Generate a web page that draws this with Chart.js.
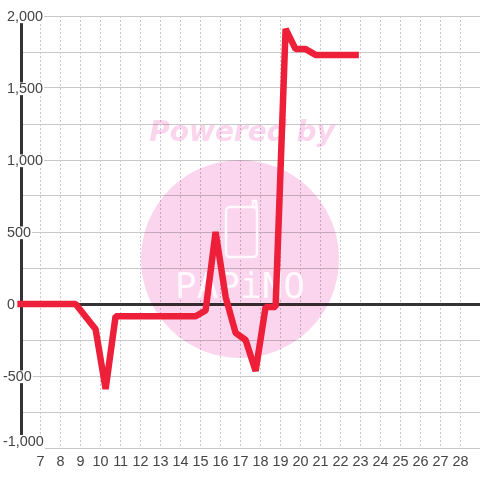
<!DOCTYPE html>
<html>
<head>
<meta charset="utf-8">
<style>
  html, body { margin: 0; padding: 0; background: #fff; }
  canvas { display: block; }
</style>
<script src="https://cdn.jsdelivr.net/npm/chart.js@4"></script>
</head>
<body>
<canvas id="chart" width="480" height="480"></canvas>
<script>
// half hourly values, the first point sits on the axis
const hours = [6, 6.25, 6.75, 7.25, 7.75, 8.25, 8.75, 9.75, 10.25, 10.75, 11.25, 11.75, 12.25, 12.75, 13.25, 13.75, 14.25, 14.75, 15.25, 15.75, 16.25, 16.75, 17.25, 17.75, 18.25, 18.75, 19.25, 19.75, 20.25, 20.75, 21.25, 21.75, 22.25, 22.75];
const values = [0, 0, 0, 0, 0, 0, 0, -175, -590, -85, -85, -85, -85, -85, -85, -85, -85, -85, -45, 500, 50, -200, -250, -465, -20, -20, 1910, 1770, 1770, 1730, 1730, 1730, 1730, 1730];
const hourTicks = [7, 8, 9, 10, 11, 12, 13, 14, 15, 16, 17, 18, 19, 20, 21, 22, 23, 24, 25, 26, 27, 28];
const labelledTicks = [2000, 1500, 1000, 500, 0, -500, -1000];

const RED = '#ee1f38';
const DARK = '#333333';
const GRID = '#c8c8c8';
const TEXT = '#444444';

// watermark behind the line, plus the white patch under the lifted -1,000 label
const watermark = {
    id: 'watermark',
    beforeDatasetsDraw(chart) {
        const ctx = chart.ctx;
        ctx.save();
        ctx.fillStyle = '#fff';
        ctx.fillRect(2, chart.scales.y.getPixelForValue(-1000) - 13, 43, 14);
        ctx.globalCompositeOperation = 'multiply';
        ctx.fillStyle = '#fbd5ed';
        ctx.beginPath();
        ctx.arc(240, 259, 99, 0, Math.PI * 2);
        ctx.fill();
        ctx.font = 'italic bold 28px "DejaVu Sans"';
        ctx.textAlign = 'center';
        ctx.textBaseline = 'middle';
        ctx.fillText('Powered by', 242, 134);
        ctx.restore();
        ctx.save();
        ctx.fillStyle = '#fff';
        ctx.strokeStyle = '#fff';
        ctx.globalAlpha = 0.85;
        ctx.lineWidth = 2.5;
        ctx.beginPath();
        ctx.roundRect(226, 207, 31, 50, 4);
        ctx.moveTo(253, 207);
        ctx.lineTo(253, 201);
        ctx.lineTo(256, 201);
        ctx.lineTo(257, 212);
        ctx.stroke();
        ctx.font = '36px "DejaVu Sans Mono"';
        ctx.textAlign = 'center';
        ctx.textBaseline = 'middle';
        ctx.fillText('PAPiNO', 240, 289);
        ctx.restore();
    }
};

new Chart(document.getElementById('chart'), {
    type: 'line',
    data: {
        datasets: [{
            data: hours.map((h, i) => ({ x: h, y: values[i] })),
            borderColor: RED,
            borderWidth: 6.5,
            borderCapStyle: 'square',
            borderJoinStyle: 'bevel',
            pointRadius: 0,
            tension: 0,
            fill: false,
            clip: false
        }]
    },
    options: {
        responsive: false,
        animation: false,
        layout: { padding: { top: 16, left: 3, right: 0, bottom: 0 } },
        plugins: { legend: { display: false }, tooltip: { enabled: false } },
        scales: {
            x: {
                type: 'linear',
                min: 6.02,
                max: 28.97,
                afterBuildTicks: (scale) => { scale.ticks = hourTicks.map(v => ({ value: v })); },
                afterFit: (scale) => { scale.height = 32; },
                grid: { color: GRID, lineWidth: 1, drawTicks: false },
                border: { display: false, dash: [2, 2] },
                ticks: {
                    autoSkip: false,
                    maxRotation: 0,
                    padding: 5,
                    color: TEXT,
                    font: { family: '"Liberation Sans"', size: 14.4 },
                    callback: (v) => String(v)
                }
            },
            y: {
                min: -1000,
                max: 2000,
                afterFit: (scale) => { scale.width = 18; },
                grid: {
                    color: (c) => (c.tick.value === 0 ? DARK : GRID),
                    lineWidth: (c) => (c.tick.value === 0 ? 3 : 1),
                    drawTicks: false
                },
                border: { display: true, color: DARK, width: 3 },
                ticks: {
                    z: 1,
                    stepSize: 250,
                    autoSkip: false,
                    mirror: true,
                    padding: -18,
                    labelOffset: 1,
                    color: TEXT,
                    font: { family: '"Liberation Sans"', size: 14.4, lineHeight: 1 },
                    showLabelBackdrop: true,
                    backdropColor: (c) => (c.tick && c.tick.value === -1000 ? 'rgba(0,0,0,0)' : '#fff'),
                    backdropPadding: { top: -0.65, bottom: -1.05, left: 0, right: 1 },
                    callback: (v) => {
                        if (!labelledTicks.includes(v)) return '';
                        const s = v.toLocaleString('en-US');
                        // two lines lift the bottom label above the axis end
                        if (v === -1000) return [s, ''];
                        return v < 0 ? s : ' ' + s;
                    }
                }
            }
        }
    },
    plugins: [watermark]
});
</script>
</body>
</html>
